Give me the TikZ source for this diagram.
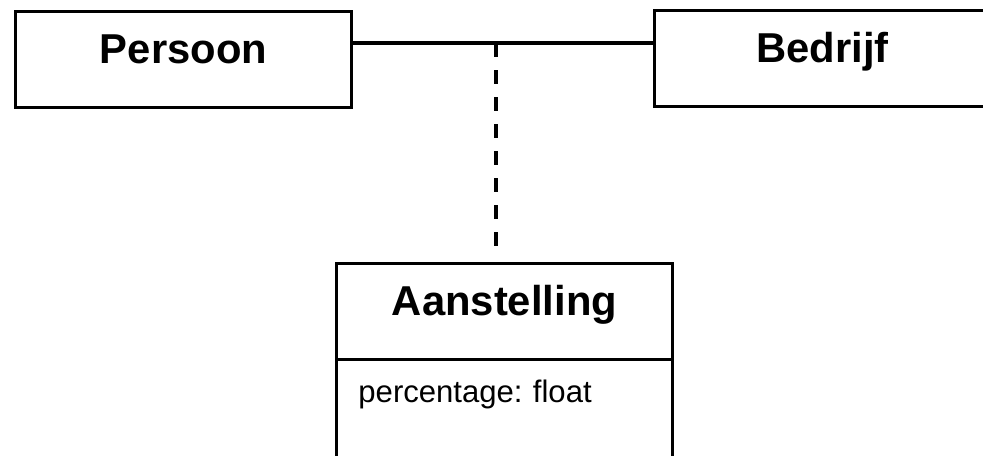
\documentclass[tikz,border=0pt]{standalone}
\usepackage{fontspec}
\setmainfont{Liberation Sans}
\tikzset{
  umlline/.style={line width=2.4pt},
  umlclass/.style={draw, umlline, rectangle, minimum width=8.4cm, inner ysep=0pt, outer sep=0pt,
    text height=1.3cm, text depth=1.1cm, font=\fontsize{29.7}{34}\selectfont\bfseries},
  umlattr/.style={draw, umlline, rectangle, anchor=north, align=left, text width=7.3cm,
    inner xsep=0.55cm, inner ysep=0pt, outer sep=0pt, text height=1.075cm, text depth=3cm,
    font=\fontsize{22.1}{26}\selectfont\frenchspacing},
  assocdash/.style={umlline, dash pattern=on 10pt off 9.2pt}
}
\begin{document}
\begin{tikzpicture}[x=0.025cm, y=-0.025cm]
\useasboundingbox (0,0) rectangle (983,455);
\node[umlclass] (persoon) at (183.5,59.5) {Persoon};
\node[umlclass] (bedrijf) at (822.5,58.5) {Bedrijf};
\node[umlclass] (aanstelling) at (504.5,311.5) {Aanstelling};
\node[umlattr] (aanstelling-attr) at (aanstelling.south) {percentage: float};
% association with its class
\coordinate (assoc) at (496,43);
\draw[umlline] (persoon.east |- assoc) -- (bedrijf.west |- assoc);
\draw[assocdash] (assoc) -- ([yshift=0.4cm]aanstelling.north -| assoc);
\end{tikzpicture}
\end{document}
